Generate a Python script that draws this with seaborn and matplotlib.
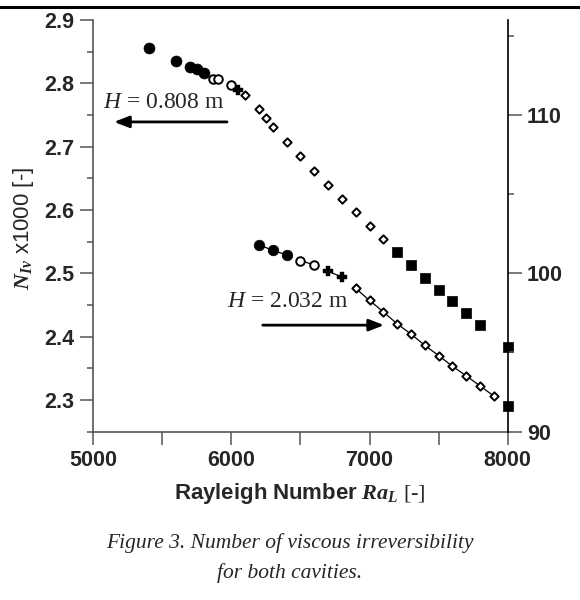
import numpy as np
import pandas as pd
import matplotlib
matplotlib.use("Agg")
import matplotlib.pyplot as plt
from matplotlib.lines import Line2D
from matplotlib.ticker import MultipleLocator
import seaborn as sns

# ---------------- data ----------------
# Upper cavity H = 0.808 m (left axis)
up_fc_x = [5400, 5600, 5700, 5750, 5800]
up_fc_y = [2.856, 2.836, 2.826, 2.822, 2.816]
up_oc_x = [5870, 5900, 6000]
up_oc_y = [2.807, 2.807, 2.797]
up_cr_x = [6045]
up_cr_y = [2.790]
up_di_x = [6100, 6200, 6250, 6300, 6400, 6500, 6600, 6700, 6800, 6900, 7000, 7100]
up_di_y = [2.782, 2.759, 2.745, 2.731, 2.708, 2.685, 2.661, 2.639, 2.618, 2.596, 2.575, 2.554]
up_sq_x = [7200, 7300, 7400, 7500, 7600, 7700, 7800, 8000]
up_sq_y = [2.533, 2.513, 2.493, 2.474, 2.456, 2.437, 2.419, 2.384]

# Lower cavity H = 2.032 m (right axis)
lo_fc_x = [6200, 6300, 6400]
lo_fc_y = [101.8, 101.44, 101.16]
lo_oc_x = [6500, 6600]
lo_oc_y = [100.8, 100.52]
lo_cr_x = [6700, 6800]
lo_cr_y = [100.12, 99.76]
lo_di_x = [6900, 7000, 7100, 7200, 7300, 7400, 7500, 7600, 7700, 7800, 7900]
lo_di_y = [99.04, 98.28, 97.56, 96.8, 96.16, 95.44, 94.8, 94.12, 93.52, 92.88, 92.24]
lo_sq_x = [8000]
lo_sq_y = [91.6]

x_ticks = [5000, 6000, 7000, 8000]
left_ticks = [2.3, 2.4, 2.5, 2.6, 2.7, 2.8, 2.9]
right_ticks = [90, 100, 110]

# ---------------- style ----------------
sns.set_style("white")
plt.rcParams["font.family"] = ["Liberation Sans", "DejaVu Sans"]
plt.rcParams["mathtext.fontset"] = "custom"
plt.rcParams["mathtext.rm"] = "Liberation Serif"
plt.rcParams["mathtext.it"] = "Liberation Serif:italic"
plt.rcParams["mathtext.bf"] = "Liberation Sans:bold"
plt.rcParams["mathtext.bfit"] = "Liberation Serif:italic:bold"
plt.rcParams["mathtext.sf"] = "Liberation Sans"

fig = plt.figure(figsize=(5.8, 6.0), dpi=100)
ax = fig.add_axes([0.1609, 0.2808, 0.8753 - 0.1609, 0.9667 - 0.2808])
ax2 = ax.twinx()

# top rule
fig.add_artist(Line2D([0, 1], [0.989, 0.989], lw=2.2, color="black"))

def scat(a, x, y, marker, s, fc, ec, lw):
    sns.scatterplot(x=x, y=y, marker=marker, s=s, color=fc, edgecolor=ec,
                    linewidth=lw, ax=a, legend=False, zorder=5, clip_on=False)

def line(a, x, y):
    sns.lineplot(x=x, y=y, color="black", lw=0.9, ax=a, legend=False,
                 zorder=2, estimator=None, sort=False)

# upper series
scat(ax, up_fc_x, up_fc_y, "o", 62, "black", "black", 0.5)
scat(ax, up_oc_x, up_oc_y, "o", 38, "white", "black", 1.4)
scat(ax, up_cr_x, up_cr_y, "P", 55, "black", "black", 0.3)
scat(ax, up_di_x, up_di_y, "D", 18, "white", "black", 1.4)
scat(ax, up_sq_x, up_sq_y, "s", 42, "black", "black", 0.5)

# lower series
for xs, ys in [(lo_fc_x, lo_fc_y), (lo_oc_x, lo_oc_y), (lo_cr_x, lo_cr_y), (lo_di_x, lo_di_y)]:
    line(ax2, xs, ys)
scat(ax2, lo_fc_x, lo_fc_y, "o", 58, "black", "black", 0.5)
scat(ax2, lo_oc_x, lo_oc_y, "o", 38, "white", "black", 1.4)
scat(ax2, lo_cr_x, lo_cr_y, "P", 55, "black", "black", 0.3)
scat(ax2, lo_di_x, lo_di_y, "D", 18, "white", "black", 1.4)
scat(ax2, lo_sq_x, lo_sq_y, "s", 42, "black", "black", 0.5)

# axes limits / ticks
ax.set_xlim(5000, 8000)
ax.set_ylim(2.25, 2.9)
ax2.set_ylim(90, 116)
ax.set_xticks(x_ticks)
ax.set_xticklabels([str(t) for t in x_ticks])
ax.xaxis.set_minor_locator(MultipleLocator(500))
ax.set_yticks(left_ticks)
ax.set_yticklabels([f"{t:.1f}" for t in left_ticks])
ax.yaxis.set_minor_locator(MultipleLocator(0.05))
ax2.set_yticks(right_ticks)
ax2.set_yticklabels([str(t) for t in right_ticks])
ax2.yaxis.set_minor_locator(MultipleLocator(5))

gray = "#555555"
for a in (ax, ax2):
    a.spines["top"].set_visible(False)
ax.spines["right"].set_visible(False)
ax2.spines["left"].set_visible(False)
ax2.spines["bottom"].set_visible(False)
ax.spines["left"].set_color(gray)
ax.spines["bottom"].set_color(gray)
ax2.spines["right"].set_color("black")
for sp in ("left", "bottom"):
    ax.spines[sp].set_linewidth(1.2)
ax2.spines["right"].set_linewidth(1.2)

ax.tick_params(axis="both", which="major", direction="out", length=9.5, width=1.1,
               color=gray, labelsize=15.5, pad=4, left=True, bottom=True)
ax.tick_params(axis="y", which="minor", direction="out", length=4.5, width=1.1,
               color=gray, left=True)
ax.tick_params(axis="x", which="minor", direction="out", length=9.5, width=1.1,
               color=gray, bottom=True)
ax2.tick_params(axis="y", which="major", direction="out", length=10, width=1.1,
                color=gray, labelsize=15.5, pad=4, right=True)
ax2.tick_params(axis="y", which="minor", direction="out", length=4.5, width=1.1,
                color=gray, right=True)
for lab in ax.get_xticklabels() + ax.get_yticklabels() + ax2.get_yticklabels():
    lab.set_fontweight("bold")
ax.grid(False)
ax2.grid(False)
ax.set_xlabel("")
ax.set_ylabel("")
ax2.set_ylabel("")

# axis labels
fig.text(0.5172, 0.178,
         "$\\mathbf{Rayleigh\\ Number}\\ \\mathbfit{Ra}_{\\mathbfit{L}}\\ \\mathrm{[\u2010]}$",
         ha="center", va="center", fontsize=16)
fig.text(0.040, 0.62, r"$\mathbfit{N}_{\mathbfit{Iv}}$ x1000 [-]",
         family="Liberation Sans", ha="center", va="center", rotation=90, fontsize=16)

# annotations
ax.text(5513, 2.769, r"$\mathit{H}$ = 0.808 m", family="Liberation Serif",
        fontsize=17, ha="center", va="center")
ax.annotate("", xy=(5150, 2.739), xytext=(5968, 2.739),
            arrowprops=dict(arrowstyle="-|>,head_length=0.9,head_width=0.35",
                            color="black", lw=2, shrinkA=0, shrinkB=0))
ax.text(6408, 2.455, r"$\mathit{H}$ = 2.032 m", family="Liberation Serif",
        fontsize=17, ha="center", va="center")
ax.annotate("", xy=(7105, 2.418), xytext=(6227, 2.418),
            arrowprops=dict(arrowstyle="-|>,head_length=0.9,head_width=0.35",
                            color="black", lw=2, shrinkA=0, shrinkB=0))

# caption
fig.text(0.5, 0.095, "Figure 3. Number of viscous irreversibility",
         family="Liberation Serif", style="italic", fontsize=15.5, ha="center", va="center")
fig.text(0.5, 0.045, "for both cavities.",
         family="Liberation Serif", style="italic", fontsize=15.5, ha="center", va="center")

fig.savefig("out.png", dpi=100)
